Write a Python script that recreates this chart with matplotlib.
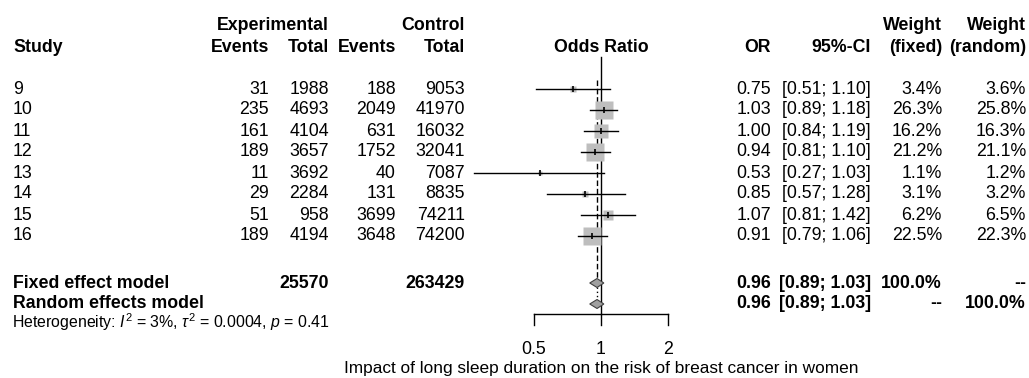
import numpy as np
import matplotlib.pyplot as plt
from matplotlib.patches import Polygon

plt.rcParams['font.family'] = ['Liberation Sans', 'DejaVu Sans']
plt.rcParams['mathtext.fontset'] = 'custom'
plt.rcParams['mathtext.rm'] = 'Liberation Sans'
plt.rcParams['mathtext.it'] = 'Liberation Sans:italic'

### Data
studies = ['9', '10', '11', '12', '13', '14', '15', '16']
exp_events = [31, 235, 161, 189, 11, 29, 51, 189]
exp_total = [1988, 4693, 4104, 3657, 3692, 2284, 958, 4194]
ctrl_events = [188, 2049, 631, 1752, 40, 131, 3699, 3648]
ctrl_total = [9053, 41970, 16032, 32041, 7087, 8835, 74211, 74200]
odds_ratio = [0.75, 1.03, 1.00, 0.94, 0.53, 0.85, 1.07, 0.91]
ci_lower = [0.51, 0.89, 0.84, 0.81, 0.27, 0.57, 0.81, 0.79]
ci_upper = [1.10, 1.18, 1.19, 1.10, 1.03, 1.28, 1.42, 1.06]
weight_fixed = [3.4, 26.3, 16.2, 21.2, 1.1, 3.1, 6.2, 22.5]
weight_random = [3.6, 25.8, 16.3, 21.1, 1.2, 3.2, 6.5, 22.3]

fixed_or, fixed_lo, fixed_hi = 0.96, 0.89, 1.03
random_or, random_lo, random_hi = 0.96, 0.89, 1.03
exp_total_sum, ctrl_total_sum = 25570, 263429
xticks = [0.5, 1, 2]
heterogeneity = r"Heterogeneity: $I^2$ = 3%, $\tau^2$ = 0.0004, $p$ = 0.41"
xlabel = "Impact of long sleep duration on the risk of breast cancer in women"

### Layout (pixels)
W, H = 1029, 378
FS = 12.8
col_study = 13
col_ee, col_et, col_ce, col_ct = 269, 329, 396, 465
col_or, col_ci, col_wf, col_wr = 771, 871, 942, 1026
row0, row_step = 89, 21
fixed_y, random_y = 283, 304
axis_y = 314

fig = plt.figure(figsize=(W / 100, H / 100), dpi=100)
tab = fig.add_axes([0, 0, 1, 1])
tab.set_xlim(0, W)
tab.set_ylim(H, 0)
tab.axis('off')

def txt(x, y, s, ha='right', bold=False, size=FS):
    tab.text(x, y, s, ha=ha, va='center', fontsize=size,
             fontweight='bold' if bold else 'normal', color='black')

# headers
txt(col_et, 25, 'Experimental', bold=True)
txt(col_ct, 25, 'Control', bold=True)
txt(col_wf, 25, 'Weight', bold=True)
txt(col_wr, 25, 'Weight', bold=True)
txt(col_study, 47, 'Study', ha='left', bold=True)
for x, s in [(col_ee, 'Events'), (col_et, 'Total'), (col_ce, 'Events'), (col_ct, 'Total'),
             (col_or, 'OR'), (col_ci, '95%-CI'), (col_wf, '(fixed)'), (col_wr, '(random)')]:
    txt(x, 47, s, bold=True)
txt(601, 47, 'Odds Ratio', ha='center', bold=True)

# study rows
for i, s in enumerate(studies):
    y = row0 + row_step * i
    txt(col_study, y, s, ha='left')
    txt(col_ee, y, str(exp_events[i]))
    txt(col_et, y, str(exp_total[i]))
    txt(col_ce, y, str(ctrl_events[i]))
    txt(col_ct, y, str(ctrl_total[i]))
    txt(col_or, y, f'{odds_ratio[i]:.2f}')
    txt(col_ci, y, f'[{ci_lower[i]:.2f}; {ci_upper[i]:.2f}]')
    txt(col_wf, y, f'{weight_fixed[i]:.1f}%')
    txt(col_wr, y, f'{weight_random[i]:.1f}%')

# summary rows
txt(col_study, fixed_y, 'Fixed effect model', ha='left', bold=True)
txt(col_et, fixed_y, str(exp_total_sum), bold=True)
txt(col_ct, fixed_y, str(ctrl_total_sum), bold=True)
txt(col_or, fixed_y, f'{fixed_or:.2f}', bold=True)
txt(col_ci, fixed_y, f'[{fixed_lo:.2f}; {fixed_hi:.2f}]', bold=True)
txt(col_wf, fixed_y, '100.0%', bold=True)
txt(col_wr, fixed_y, '--', bold=True)

txt(col_study, random_y, 'Random effects model', ha='left', bold=True)
txt(col_or, random_y, f'{random_or:.2f}', bold=True)
txt(col_ci, random_y, f'[{random_lo:.2f}; {random_hi:.2f}]', bold=True)
txt(col_wf, random_y, '--', bold=True)
txt(col_wr, random_y, '100.0%', bold=True)

txt(12, 322, heterogeneity, ha='left', size=11.4)

### Forest panel: log2 scale, 1 at x=601px, 67px per doubling
fx0, fx1 = 470, 730
ax = fig.add_axes([fx0 / W, 0, (fx1 - fx0) / W, 1])
ax.set_xscale('log', base=2)
ax.set_xlim(2 ** ((fx0 - 601) / 67), 2 ** ((fx1 - 601) / 67))
ax.set_ylim(H, 0)
ax.axis('off')

# reference lines
ax.plot([1, 1], [57, axis_y], color='black', lw=1)
ax.plot([fixed_or, fixed_or], [80, fixed_y - 4], color='black', lw=1, ls=(0, (4, 2)))
ax.plot([random_or, random_or], [fixed_y + 4, random_y - 4], color='black', lw=1, ls=(0, (1, 2)))

for i in range(len(studies)):
    y = row0 + row_step * i
    side_px = 3.7 * np.sqrt(weight_fixed[i])
    ax.plot(odds_ratio[i], y, marker='s', ms=side_px * 0.72, color='#BEBEBE',
            mec='none', zorder=2)
    ax.plot([ci_lower[i], ci_upper[i]], [y, y], color='black', lw=1, zorder=3)
    ax.plot(odds_ratio[i], y, marker='|', ms=4, mew=1.2, color='black', zorder=3)

for est, lo, hi, y in [(fixed_or, fixed_lo, fixed_hi, fixed_y),
                       (random_or, random_lo, random_hi, random_y)]:
    ax.add_patch(Polygon([(lo, y), (est, y - 4.5), (hi, y), (est, y + 4.5)],
                         closed=True, fc='#A0A0A0', ec='#404040', lw=0.8, zorder=4))

# axis
ax.plot([xticks[0], xticks[-1]], [axis_y, axis_y], color='black', lw=1)
for t in xticks:
    ax.plot([t, t], [axis_y, axis_y + 11], color='black', lw=1)
    ax.text(t, 349, f'{t:g}', ha='center', va='center', fontsize=FS)
ax.text(1, 369, xlabel, ha='center', va='center', fontsize=12.4)

fig.savefig('out.png', dpi=100)
